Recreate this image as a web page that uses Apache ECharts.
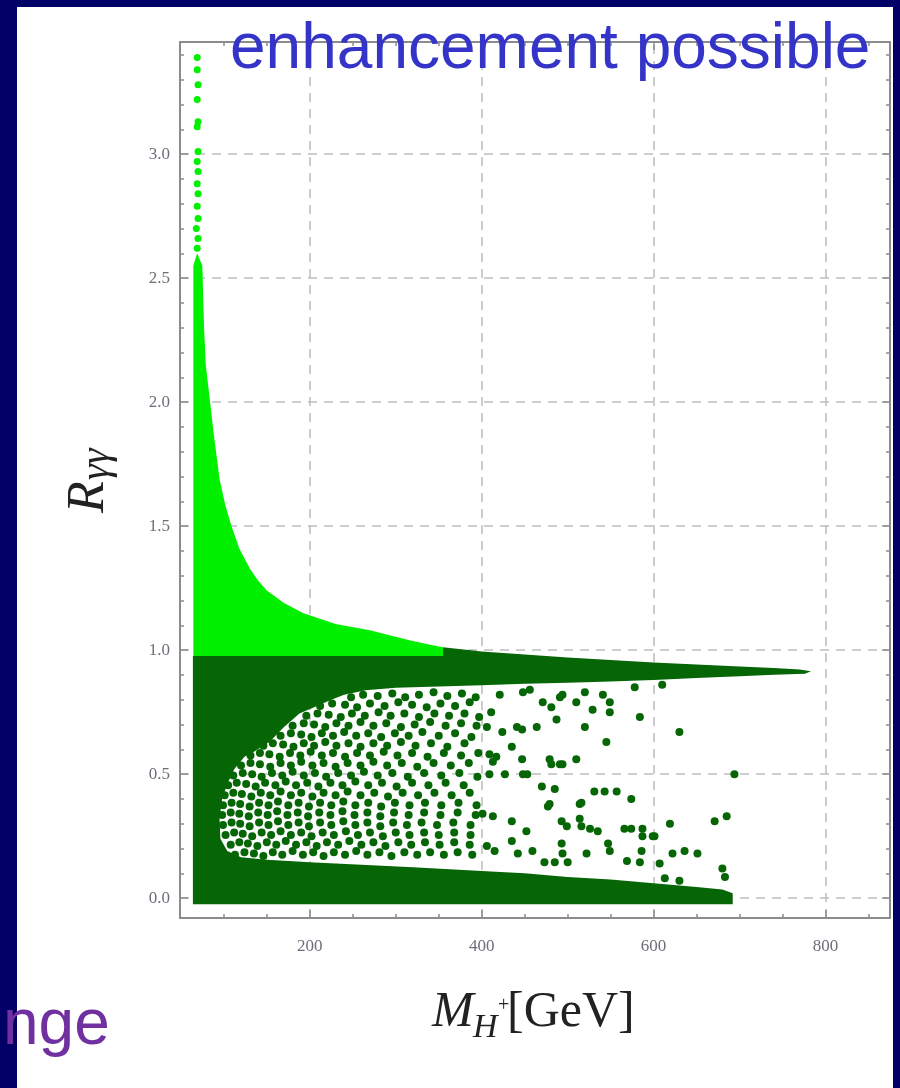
<!DOCTYPE html>
<html><head><meta charset="utf-8">
<script src="https://cdn.jsdelivr.net/npm/echarts@6/dist/echarts.min.js"></script>
<style>html,body{margin:0;padding:0;background:#fff}#c{width:900px;height:1088px}</style>
</head><body><div id="c"></div>
<script>
// ---- axis ticks ----
const xMajorTicks = [200, 400, 600, 800];
const xMinorTicks = [100, 150, 250, 300, 350, 450, 500, 550, 650, 700, 750, 850];
const yMajorTicks = [0, 0.5, 1.0, 1.5, 2.0, 2.5, 3.0];
const yMinorTicks = [0.1,0.2,0.3,0.4,0.6,0.7,0.8,0.9,1.1,1.2,1.3,1.4,1.6,1.7,1.8,1.9,2.1,2.2,2.3,2.4,2.6,2.7,2.8,2.9,3.1,3.2,3.3,3.4];
const xGridLines = [200, 400, 600, 800];
const yGridLines = [0, 0.5, 1.0, 1.5, 2.0, 2.5, 3.0];

// ---- data: M_H+ [GeV], R_gamma gamma ----
// light green (enhanced) region outline
const lightRegion = [[64.5,0.976],[64.5,2.55],[69,2.6],[75,2.55],[77,2.3],[79,2.15],[84,2.0],[88,1.88],[95,1.69],[102,1.58],[109,1.5],[118,1.41],[130,1.33],[140,1.28],[150,1.24],[170,1.19],[192,1.15],[230,1.105],[270,1.08],[316,1.04],[340,1.022],[355,1.012],[355,0.976]];
// sparse light green points at the top
const lightPoints = [[69,2.62],[70,2.66],[68,2.70],[70,2.74],[69,2.79],[70,2.84],[69,2.88],[70,2.93],[69,2.97],[70,3.01],[69,3.11],[70,3.13],[69,3.22],[70,3.28],[69,3.34],[69,3.39]];
// dense dark green region outline
const darkRegion = [[64,-0.025],[64,0.976],[355,0.976],[355,1.012],[400,0.995],[450,0.982],[500,0.97],[550,0.96],[600,0.95],[650,0.942],[700,0.934],[740,0.928],[770,0.922],[783,0.915],[776,0.905],[740,0.901],[700,0.895],[650,0.888],[600,0.88],[550,0.874],[500,0.869],[450,0.864],[400,0.858],[350,0.853],[300,0.848],[265,0.838],[240,0.82],[225,0.80],[205,0.77],[188,0.745],[170,0.69],[153,0.63],[135,0.59],[124,0.57],[112,0.52],[104,0.46],[98,0.40],[95,0.32],[96,0.24],[104,0.19],[120,0.165],[150,0.155],[200,0.145],[260,0.135],[320,0.125],[400,0.11],[450,0.1],[500,0.085],[550,0.075],[600,0.06],[650,0.045],[680,0.035],[692,0.02],[692,-0.025]];
// scattered dark green points, left part
const darkPointsLeft = [
[248,0.81],[262,0.82],[279,0.815],[296,0.825],[311,0.81],[327,0.82],[344,0.83],[360,0.815],[377,0.825],[393,0.81],
[212,0.775],[226,0.785],[241,0.78],[255,0.77],[270,0.785],[287,0.775],[303,0.79],[319,0.78],[336,0.77],[352,0.785],[369,0.775],[386,0.79],
[196,0.735],[209,0.745],[222,0.74],[236,0.73],[249,0.745],[264,0.735],[280,0.75],[294,0.735],[310,0.745],[327,0.73],[345,0.745],[362,0.735],[380,0.745],[397,0.73],
[180,0.695],[193,0.705],[205,0.70],[218,0.69],[231,0.705],[245,0.695],[259,0.71],[274,0.695],[289,0.705],[306,0.69],[322,0.70],[340,0.71],[358,0.695],[376,0.705],[394,0.695],
[166,0.655],[178,0.665],[190,0.66],[202,0.65],[214,0.665],[227,0.655],[240,0.67],[254,0.655],[268,0.665],[283,0.65],[299,0.665],[315,0.655],[331,0.67],[350,0.655],[369,0.665],[388,0.65],
[146,0.615],[157,0.625],[169,0.62],[181,0.61],[193,0.625],[205,0.615],[218,0.63],[231,0.615],[245,0.625],[259,0.61],[274,0.625],[290,0.615],[306,0.63],[323,0.615],[341,0.625],[360,0.61],[380,0.625],
[131,0.575],[142,0.585],[153,0.58],[165,0.57],[177,0.585],[189,0.575],[201,0.59],[214,0.575],[227,0.585],[241,0.57],[255,0.585],[270,0.575],[286,0.59],[302,0.575],[319,0.585],[337,0.57],[356,0.585],[376,0.575],[396,0.585],
[120,0.535],[131,0.545],[142,0.54],[154,0.53],[166,0.545],[178,0.535],[190,0.55],[203,0.535],[216,0.545],[230,0.53],[244,0.545],[259,0.535],[274,0.55],[290,0.535],[307,0.545],[325,0.53],[344,0.545],[364,0.535],[385,0.545],
[111,0.495],[122,0.505],[133,0.50],[144,0.49],[156,0.505],[168,0.495],[180,0.51],[193,0.495],[206,0.505],[219,0.49],[233,0.505],[248,0.495],[263,0.51],[279,0.495],[296,0.505],[314,0.49],[333,0.505],[353,0.495],[374,0.505],[395,0.49],
[105,0.455],[115,0.465],[126,0.46],[137,0.45],[148,0.465],[160,0.455],[172,0.47],[184,0.455],[197,0.465],[210,0.45],[224,0.465],[238,0.455],[253,0.47],[268,0.455],[284,0.465],[301,0.45],[319,0.465],[338,0.455],[358,0.465],[379,0.455],
[101,0.415],[111,0.425],[121,0.42],[132,0.41],[143,0.425],[154,0.415],[166,0.43],[178,0.415],[190,0.425],[203,0.41],[216,0.425],[230,0.415],[244,0.43],[259,0.415],[275,0.425],[291,0.41],[308,0.425],[326,0.415],[345,0.425],[365,0.415],[386,0.425],
[99,0.375],[109,0.385],[119,0.38],[130,0.37],[141,0.385],[152,0.375],[163,0.39],[175,0.375],[187,0.385],[199,0.37],[212,0.385],[225,0.375],[239,0.39],[253,0.375],[268,0.385],[283,0.37],[299,0.385],[316,0.375],[334,0.385],[353,0.375],[373,0.385],[394,0.375],
[98,0.335],[108,0.345],[118,0.34],[129,0.33],[140,0.345],[151,0.335],[162,0.35],[174,0.335],[186,0.345],[198,0.33],[211,0.345],[224,0.335],[238,0.35],[252,0.335],[267,0.345],[282,0.33],[298,0.345],[315,0.335],[333,0.345],[352,0.335],[372,0.345],[393,0.335],
[99,0.295],[109,0.305],[119,0.30],[130,0.29],[141,0.305],[152,0.295],[163,0.31],[175,0.295],[187,0.305],[199,0.29],[212,0.305],[225,0.295],[239,0.31],[253,0.295],[267,0.305],[282,0.29],[297,0.305],[313,0.295],[330,0.305],[348,0.295],[367,0.305],[387,0.295],
[102,0.255],[112,0.265],[122,0.26],[133,0.25],[144,0.265],[155,0.255],[166,0.27],[178,0.255],[190,0.265],[202,0.25],[215,0.265],[228,0.255],[242,0.27],[256,0.255],[270,0.265],[285,0.25],[300,0.265],[316,0.255],[333,0.265],[350,0.255],[368,0.265],[387,0.255],
[108,0.215],[118,0.225],[128,0.22],[139,0.21],[150,0.225],[161,0.215],[172,0.23],[184,0.215],[196,0.225],[208,0.21],[220,0.225],[233,0.215],[246,0.23],[260,0.215],[274,0.225],[288,0.21],[303,0.225],[318,0.215],[334,0.225],[351,0.215],[368,0.225],[386,0.215],
[113,0.175],[124,0.185],[135,0.18],[146,0.17],[157,0.185],[168,0.175],[180,0.19],[192,0.175],[204,0.185],[216,0.17],[228,0.185],[241,0.175],[254,0.19],[267,0.175],[281,0.185],[295,0.17],[310,0.185],[325,0.175],[340,0.185],[356,0.175],[372,0.185],[389,0.175]
];
// scattered dark green points, right part
const darkPointsRight = [
[421,0.82],[448,0.83],[456,0.84],[471,0.79],[481,0.77],[491,0.81],[494,0.82],[510,0.79],[520,0.83],[529,0.76],[541,0.82],[549,0.79],[549,0.75],[578,0.85],[584,0.73],[610,0.86],[630,0.67],
[411,0.75],[406,0.69],[424,0.67],[441,0.69],[447,0.68],[464,0.69],[487,0.72],[520,0.69],[545,0.63],[435,0.61],[409,0.58],[417,0.57],[413,0.55],[447,0.56],[479,0.56],[481,0.54],[491,0.54],[494,0.54],[510,0.56],
[409,0.5],[427,0.5],[448,0.5],[453,0.5],[470,0.45],[485,0.44],[479,0.38],[477,0.37],[514,0.38],[516,0.385],[531,0.43],[543,0.43],[557,0.43],[574,0.40],[694,0.50],
[401,0.34],[413,0.33],[435,0.31],[452,0.27],[493,0.31],[499,0.29],[514,0.32],[516,0.29],[526,0.28],[535,0.27],[566,0.28],[574,0.28],[587,0.28],[587,0.25],[601,0.25],[619,0.30],[671,0.31],[685,0.33],
[406,0.21],[415,0.19],[435,0.23],[442,0.18],[459,0.19],[493,0.22],[494,0.18],[522,0.18],[547,0.22],[549,0.19],[586,0.19],[599,0.25],[622,0.18],[636,0.19],[651,0.18],[680,0.12],[683,0.085],
[473,0.145],[485,0.145],[500,0.145],[569,0.15],[584,0.145],[607,0.14],[613,0.08],[630,0.07]
];

// ---- text ----
const titleText = 'enhancement possible';
const cornerText = 'nge';

const DARK = '#066606', LIGHT = '#00f000';
const FRAME = '#8c8c8c', LABEL = '#6e6e7a';
const X_MIN = 49, X_MAX = 875, Y_MIN = -0.08, Y_MAX = 3.452;

function xAx(pos, ticks, len, labels, line) {
  return {
    type: 'value', min: X_MIN, max: X_MAX, position: pos, z: 20,
    axisLine: { show: line, onZero: false, lineStyle: { color: FRAME, width: 2 } },
    axisTick: { show: true, inside: true, length: len, customValues: ticks, lineStyle: { color: FRAME, width: 1.5 } },
    axisLabel: labels ? { show: true, customValues: ticks, margin: 20, color: LABEL, fontFamily: 'Liberation Serif', fontSize: 17 } : { show: false },
    splitLine: { show: false }
  };
}
function yAx(pos, ticks, len, labels, line) {
  return {
    type: 'value', min: Y_MIN, max: Y_MAX, position: pos, z: 20,
    axisLine: { show: line, onZero: false, lineStyle: { color: FRAME, width: 2 } },
    axisTick: { show: true, inside: true, length: len, customValues: ticks, lineStyle: { color: FRAME, width: 1.5 } },
    axisLabel: labels ? { show: true, customValues: ticks, margin: 10, color: LABEL, fontFamily: 'Liberation Serif', fontSize: 17, formatter: v => v.toFixed(1) } : { show: false },
    splitLine: { show: false }
  };
}
function polygonSeries(points, color, z) {
  return {
    type: 'custom', z: z, silent: true, xAxisIndex: 0, yAxisIndex: 0,
    data: [points[0]],
    renderItem: (params, api) => ({
      type: 'polygon',
      shape: { points: points.map(p => api.coord(p)) },
      style: { fill: color }
    })
  };
}

const chart = echarts.init(document.getElementById('c'), null, { renderer: 'canvas' });
const serifI = 'italic {s}px "Liberation Serif"';
chart.setOption({
  backgroundColor: '#ffffff',
  animation: false,
  grid: { left: 180, right: 10, top: 42, bottom: 170, containLabel: false, outerBoundsMode: 'none' },
  xAxis: [
    xAx('bottom', xMajorTicks, 8, true, true),
    xAx('bottom', xMinorTicks, 4, false, false),
    xAx('top', xMajorTicks, 8, false, true),
    xAx('top', xMinorTicks, 4, false, false)
  ],
  yAxis: [
    yAx('left', yMajorTicks, 8, true, true),
    yAx('left', yMinorTicks, 4, false, false),
    yAx('right', yMajorTicks, 8, false, true),
    yAx('right', yMinorTicks, 4, false, false)
  ],
  series: [
    {
      type: 'scatter', data: [], z: 1, silent: true,
      markLine: {
        z: 1, silent: true, symbol: ['none', 'none'], label: { show: false },
        lineStyle: { color: '#bdbdbd', width: 1.5, type: [9, 7] },
        data: xGridLines.map(v => ({ xAxis: v })).concat(yGridLines.map(v => ({ yAxis: v })))
      }
    },
    polygonSeries(darkRegion, DARK, 6),
    polygonSeries(lightRegion, LIGHT, 7),
    {
      type: 'scatter', z: 8, silent: true, symbolSize: 8,
      itemStyle: { color: DARK, opacity: 1 },
      data: darkPointsLeft.concat(darkPointsRight)
    },
    {
      type: 'scatter', z: 9, silent: true, symbolSize: 7,
      itemStyle: { color: LIGHT, opacity: 1 },
      data: lightPoints
    }
  ],
  graphic: [
    { type: 'rect', z: 100, shape: { x: 0, y: 0, width: 17, height: 1088 }, style: { fill: '#000066' } },
    { type: 'rect', z: 100, shape: { x: 0, y: 0, width: 900, height: 7 }, style: { fill: '#000066' } },
    { type: 'rect', z: 100, shape: { x: 893, y: 0, width: 7, height: 1088 }, style: { fill: '#000066' } },
    { type: 'text', z: 110, x: 230, y: 50, style: { text: titleText, font: '64px "Liberation Sans"', fill: '#3434c8', verticalAlign: 'middle' } },
    { type: 'text', z: 110, x: 3, y: 1026, style: { text: cornerText, font: '64px "Liberation Sans"', fill: '#7030a0', verticalAlign: 'middle' } },
    // x axis title  M_{H+} [GeV]
    { type: 'text', z: 110, x: 432, y: 1013, style: { text: 'M', font: serifI.replace('{s}', 50), fill: '#222', verticalAlign: 'middle' } },
    { type: 'text', z: 110, x: 473, y: 1028, style: { text: 'H', font: serifI.replace('{s}', 34), fill: '#222', verticalAlign: 'middle' } },
    { type: 'text', z: 110, x: 498, y: 1006, style: { text: '+', font: '20px "Liberation Serif"', fill: '#222', verticalAlign: 'middle' } },
    { type: 'text', z: 110, x: 507, y: 1013, style: { text: '[GeV]', font: '50px "Liberation Serif"', fill: '#222', verticalAlign: 'middle' } },
    // y axis title  R_{gamma gamma}
    {
      type: 'group', z: 110, x: 89, y: 513, rotation: Math.PI / 2,
      children: [
        { type: 'text', z: 110, x: 0, y: 0, style: { text: 'R', font: serifI.replace('{s}', 52), fill: '#222', verticalAlign: 'middle' } },
        { type: 'text', z: 110, x: 33, y: 8, style: { text: 'γγ', font: serifI.replace('{s}', 40), fill: '#222', verticalAlign: 'middle' } }
      ]
    }
  ]
});
</script>
</body></html>
